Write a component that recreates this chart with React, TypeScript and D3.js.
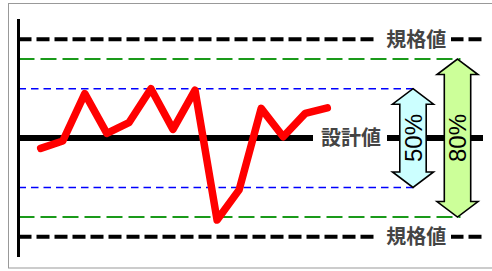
import React from "react";
import * as d3 from "d3";

// measured deviation from the design value, in % of the spec limit
const measurements = [-10.4, -3, 45, 4.7, 15.5, 50, 8.8, 48.5, -83, -52.5, 30, 1.3, 25, 30.6];

const specLimit = 100;
const bandValues = [50, 80];
const bandLabels = ["50%", "80%"];
const bandColors = ["#0000ff", "#1a9a1a"];
const bandFills = ["#ccffff", "#ccff99"];
const limitLabel = "規格値";
const designLabel = "設計値";

const width = 492;
const height = 271;

const y = d3.scaleLinear().domain([-specLimit, specLimit]).range([236.8, 39.3]);
const x = d3
  .scaleLinear()
  .domain([0, measurements.length - 1])
  .range([40.7, 327.3]);

const axisX = 18.5;
const lineEnd = 483;
const arrowX = [413, 457.5];

const arrowPath = (cx: number, top: number, bottom: number) => {
  const hw = 20.5;
  const sw = 13.2;
  const hl = 15.5;
  const p = d3.path();
  p.moveTo(cx, top);
  p.lineTo(cx + hw, top + hl);
  p.lineTo(cx + sw, top + hl);
  p.lineTo(cx + sw, bottom - hl);
  p.lineTo(cx + hw, bottom - hl);
  p.lineTo(cx, bottom);
  p.lineTo(cx - hw, bottom - hl);
  p.lineTo(cx - sw, bottom - hl);
  p.lineTo(cx - sw, top + hl);
  p.lineTo(cx - hw, top + hl);
  p.closePath();
  return p.toString();
};

const labelFont = "'Noto Sans CJK JP', 'Noto Sans', sans-serif";

export default function App() {
  const line = d3
    .line<number>()
    .x((_, i) => x(i))
    .y((d) => y(d));

  return (
    <div style={{ position: "fixed", left: 0, top: 0 }}>
      <svg width={width} height={height} style={{ display: "block", background: "#fff" }}>
        <rect x={8.5} y={3.5} width={490} height={264.5} fill="#fff" stroke="#999" strokeWidth={1} />

        {/* tolerance bands */}
        {bandValues.map((v, i) =>
          [v, -v].map((d) => (
            <line
              key={`${i}-${d}`}
              x1={axisX}
              x2={arrowX[i] + 3}
              y1={y(d)}
              y2={y(d)}
              stroke={bandColors[i]}
              strokeWidth={i === 0 ? 1.6 : 2}
              strokeDasharray={i === 0 ? "7.5,5" : "16,6"}
            />
          ))
        )}

        {/* spec limits */}
        {[specLimit, -specLimit].map((d) => (
          <g key={d}>
            <line
              x1={axisX}
              x2={lineEnd}
              y1={y(d)}
              y2={y(d)}
              stroke="#000"
              strokeWidth={4}
              strokeDasharray="13,5"
            />
            <rect x={377} y={y(d) - 12} width={74} height={24} fill="#fff" />
            <text
              x={416.3}
              y={y(d)}
              dy="0.36em"
              textAnchor="middle"
              fontFamily={labelFont}
              fontSize={20}
              fontWeight="bold"
              fill="#444"
            >
              {limitLabel}
            </text>
          </g>
        ))}

        {/* design value */}
        <line x1={axisX} x2={lineEnd} y1={y(0)} y2={y(0)} stroke="#000" strokeWidth={6} />
        <rect x={313} y={y(0) - 12} width={74} height={24} fill="#fff" />
        <text
          x={351}
          y={y(0)}
          dy="0.36em"
          textAnchor="middle"
          fontFamily={labelFont}
          fontSize={20}
          fontWeight="bold"
          fill="#444"
        >
          {designLabel}
        </text>

        {/* arrows */}
        {bandValues.map((v, i) => (
          <g key={v}>
            <path
              d={arrowPath(arrowX[i], y(v), y(-v))}
              fill={bandFills[i]}
              stroke="#000"
              strokeWidth={1.6}
              strokeLinejoin="miter"
            />
            <text
              transform={`translate(${arrowX[i]},${y(0)}) rotate(-90)`}
              dy="0.36em"
              textAnchor="middle"
              fontFamily="'Liberation Sans', Arial, sans-serif"
              fontSize={24}
              fill="#000"
            >
              {bandLabels[i]}
            </text>
          </g>
        ))}

        {/* measured data */}
        <path
          d={line(measurements) ?? ""}
          fill="none"
          stroke="#ff0000"
          strokeWidth={7.5}
          strokeLinejoin="round"
          strokeLinecap="round"
        />

        {/* axis */}
        <line x1={axisX} x2={axisX} y1={19} y2={257} stroke="#000" strokeWidth={3} />
      </svg>
    </div>
  );
}
